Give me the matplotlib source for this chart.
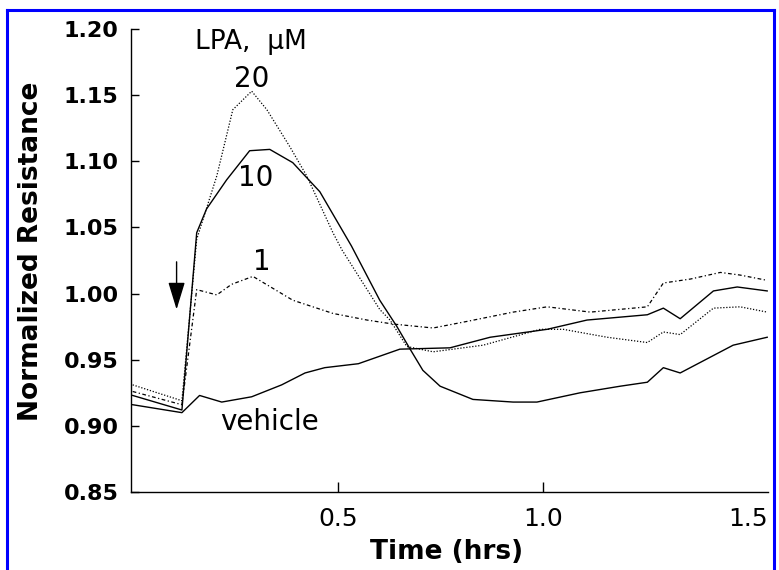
import matplotlib.pyplot as plt
from matplotlib.lines import Line2D

# time (hrs) and normalized resistance
vehicle_t = [0.0, 0.12, 0.163, 0.217, 0.29, 0.363, 0.42, 0.468, 0.55, 0.651, 0.773,
             0.871, 1.01, 1.107, 1.254, 1.293, 1.334, 1.415, 1.473, 1.546]
vehicle_r = [0.916, 0.910, 0.923, 0.918, 0.922, 0.931, 0.940, 0.944, 0.947, 0.958, 0.959,
             0.967, 0.973, 0.980, 0.984, 0.989, 0.981, 1.002, 1.005, 1.002]

lpa10_t = [0.0, 0.12, 0.156, 0.18, 0.229, 0.285, 0.334, 0.39, 0.456, 0.533, 0.602, 0.644,
           0.676, 0.707, 0.749, 0.829, 0.927, 0.985, 1.09, 1.188, 1.254, 1.293, 1.334,
           1.463, 1.546]
lpa10_r = [0.923, 0.912, 1.046, 1.064, 1.086, 1.108, 1.109, 1.099, 1.077, 1.036, 0.995, 0.975,
           0.958, 0.942, 0.930, 0.920, 0.918, 0.918, 0.925, 0.930, 0.933, 0.944, 0.940,
           0.961, 0.967]

lpa20_t = [0.0, 0.12, 0.156, 0.205, 0.244, 0.29, 0.327, 0.383, 0.424, 0.488, 0.51, 0.602,
           0.627, 0.668, 0.732, 0.854, 0.993, 1.049, 1.156, 1.254, 1.293, 1.334, 1.415,
           1.48, 1.546]
lpa20_r = [0.931, 0.919, 1.041, 1.089, 1.139, 1.153, 1.139, 1.111, 1.089, 1.046, 1.033, 0.988,
           0.980, 0.960, 0.956, 0.961, 0.973, 0.973, 0.967, 0.963, 0.971, 0.969, 0.989,
           0.990, 0.986]

lpa1_t = [0.0, 0.12, 0.156, 0.205, 0.241, 0.293, 0.39, 0.488, 0.571, 0.634, 0.732, 0.815,
          0.927, 1.01, 1.115, 1.254, 1.293, 1.359, 1.432, 1.48, 1.546]
lpa1_r = [0.926, 0.916, 1.003, 0.999, 1.007, 1.013, 0.995, 0.985, 0.980, 0.977, 0.974, 0.979,
          0.986, 0.990, 0.986, 0.990, 1.008, 1.011, 1.016, 1.014, 1.010]

y_ticks = [0.85, 0.90, 0.95, 1.00, 1.05, 1.10, 1.15, 1.20]
x_ticks = [0.5, 1.0, 1.5]

plt.rcParams['font.family'] = ['DejaVu Sans']

fig = plt.figure(figsize=(7.79, 5.70), dpi=100)
ax = fig.add_axes([0.1682, 0.1368, 0.8177, 0.8123])

ax.plot(vehicle_t, vehicle_r, color='black', lw=1.0)
ax.plot(lpa10_t, lpa10_r, color='black', lw=1.0)
ax.plot(lpa20_t, lpa20_r, color='black', lw=0.9, linestyle=(0, (1, 1.4)))
ax.plot(lpa1_t, lpa1_r, color='black', lw=0.9, linestyle=(0, (3, 2, 1, 2)))

# arrow marking LPA addition
ax.annotate('', xy=(0.107, 0.988), xytext=(0.107, 1.024),
            arrowprops=dict(arrowstyle='-|>,head_length=0.85,head_width=0.26',
                            mutation_scale=20, color='black', lw=1.0,
                            shrinkA=0, shrinkB=0))

ax.text(0.151, 1.1848, 'LPA,  \u03bcM', fontsize=19, ha='left', va='baseline')
ax.text(0.290, 1.156, '20', fontsize=20, ha='center', va='baseline')
ax.text(0.300, 1.081, '10', fontsize=20, ha='center', va='baseline')
ax.text(0.315, 1.018, '1', fontsize=20, ha='center', va='baseline')
ax.text(0.212, 0.897, 'vehicle', fontsize=20, ha='left', va='baseline')

ax.set_xlim(-0.004, 1.548)
ax.set_ylim(0.85, 1.20)
ax.set_xticks(x_ticks)
ax.set_xticklabels(['0.5', '1.0', '1.5'], fontsize=18)
ax.set_yticks(y_ticks)
ax.set_yticklabels(['%.2f' % v for v in y_ticks], fontsize=16, fontweight='bold')
ax.tick_params(axis='x', direction='in', length=7, width=1, pad=11)
ax.tick_params(axis='y', direction='in', length=6, width=1, pad=9)
ax.xaxis.get_major_ticks()[2].tick1line.set_visible(False)

ax.spines['top'].set_visible(False)
ax.spines['right'].set_visible(False)
for s in ['left', 'bottom']:
    ax.spines[s].set_linewidth(1.0)

ax.set_xlabel('Time (hrs)', fontsize=19, fontweight='bold')
ax.set_ylabel('Normalized Resistance', fontsize=19, fontweight='bold')
ax.xaxis.set_label_coords(0.495, -0.101)
ax.yaxis.set_label_coords(-0.137, 0.52)

# blue frame around the figure (clipped at the bottom)
W, H = 779, 570
fr = dict(color='#0000ff', lw=2.2, transform=fig.transFigure)
fig.add_artist(Line2D([7 / W, 7 / W], [0, 1 - 10 / H], **fr))
fig.add_artist(Line2D([7 / W, 774 / W], [1 - 10 / H, 1 - 10 / H], **fr))
fig.add_artist(Line2D([774 / W, 774 / W], [0, 1 - 10 / H], **fr))

fig.savefig('out.png', dpi=100)
